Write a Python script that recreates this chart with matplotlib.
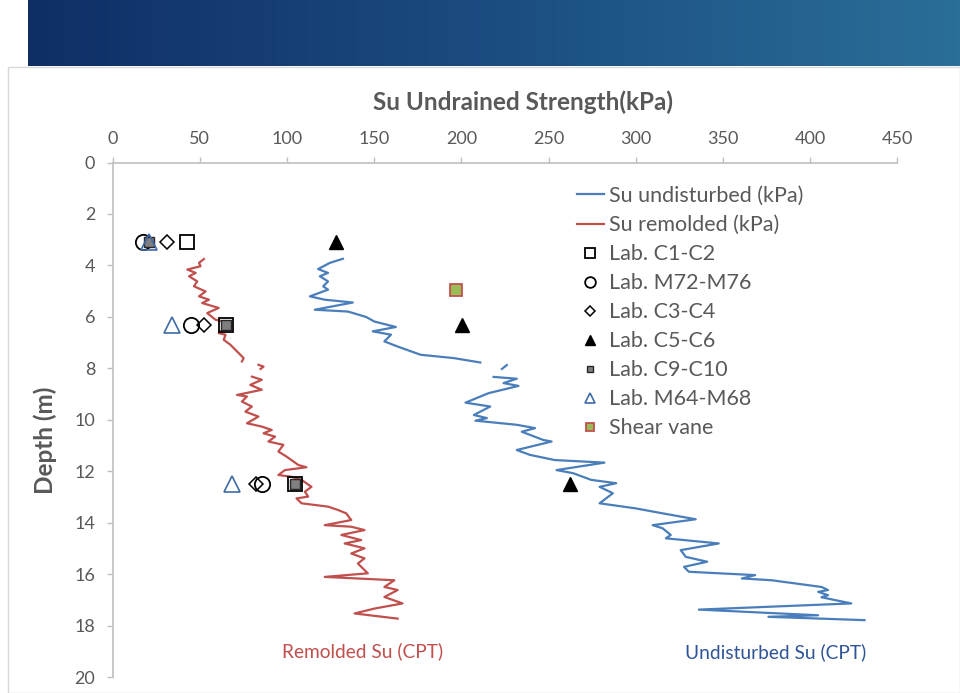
import numpy as np
import matplotlib
matplotlib.use("Agg")
import matplotlib.pyplot as plt
from matplotlib.patches import Rectangle
from matplotlib.colors import LinearSegmentedColormap

plt.rcParams['font.family'] = ['Lato', 'DejaVu Sans']

nan = np.nan

# Undisturbed Su from CPT (kPa) vs depth (m)
und_su = [132.1, 124.6, 117.9, 123.6, 118.9, 123.6, 120.8, 123.6, 113.2, 121.7,
          137.8, 116.0, 135.0, 145.4, 150.2, 162.5, 149.2, 159.7, 155.9, 163.5,
          176.7, 195.8, 210.9, nan,
          226.1, 223.3, nan,
          218.5, 231.8, 224.2, 232.8, 215.7, 202.4, 216.6, 207.2, 214.7, 208.1,
          231.8, 242.3, 234.7, 247.0, 251.8, 231.8, 239.4, 253.6, 282.1, 254.6,
          264.1, 274.5, 288.8, 279.3, 286.9, 279.3, 300.2, 315.4, 334.4, 309.7,
          315.4, 320.1, 317.3, 347.6, 325.8, 328.7, 341.0, 327.7, 330.5, 368.5,
          360.9, 378.0, 406.5, 410.3, 404.6, 410.3, 406.5, 423.6, 336.2, 404.6,
          376.1, 431.2]
und_d = [3.74, 3.90, 4.14, 4.29, 4.42, 4.62, 4.81, 4.94, 5.20, 5.33,
         5.44, 5.72, 5.79, 6.00, 6.18, 6.39, 6.56, 6.69, 6.95, 7.15,
         7.47, 7.60, 7.77, nan,
         7.87, 8.02, nan,
         8.33, 8.40, 8.57, 8.68, 8.96, 9.33, 9.48, 9.81, 9.93, 10.03,
         10.19, 10.32, 10.46, 10.78, 10.84, 11.17, 11.36, 11.56, 11.66, 11.95,
         12.07, 12.33, 12.46, 12.60, 12.85, 13.24, 13.44, 13.63, 13.86, 14.09,
         14.21, 14.47, 14.60, 14.80, 15.06, 15.32, 15.51, 15.71, 15.90, 16.03,
         16.16, 16.23, 16.49, 16.61, 16.68, 16.81, 16.89, 17.13, 17.37, 17.59,
         17.65, 17.78]

# Remolded Su from CPT (kPa) vs depth (m)
rem_su = [52.4, 49.6, 50.5, 42.9, 47.7, 43.9, 48.6, 46.7, 53.4, 49.6,
          55.3, 51.4, 60.9, 54.3, 59.1, 67.6, 60.9, 64.8, 63.8, 67.6,
          70.5, 72.3, 75.2, 74.2, nan,
          83.7, 86.6, 84.9, nan,
          79.9, 85.6, 79.0, 85.6, 71.4, 77.1, 74.2, 79.9, 76.2, 83.7,
          77.1, 85.6, 91.3, 86.6, 93.2, 89.4, 98.0, 95.1, 99.9, 106.5,
          111.2, 98.9, 95.1, 102.7, 108.4, 114.1, 110.3, 112.2, 105.5, 108.4,
          123.6, 129.3, 134.0, 136.9, 121.7, 136.9, 144.5, 131.2, 142.6, 133.1,
          144.5, 136.9, 144.5, 140.7, 146.4, 121.7, 161.6, 155.9, 163.5, 155.9,
          166.3, 150.2, 138.8, 163.5]
rem_d = [3.75, 3.90, 4.03, 4.16, 4.29, 4.42, 4.62, 4.81, 5.01, 5.20,
         5.33, 5.46, 5.65, 5.85, 6.11, 6.24, 6.63, 6.69, 6.89, 7.08,
         7.28, 7.40, 7.60, 7.73, nan,
         7.86, 7.93, 8.02, nan,
         8.32, 8.44, 8.64, 8.83, 9.03, 9.09, 9.29, 9.48, 9.68, 9.87,
         10.13, 10.26, 10.39, 10.52, 10.65, 10.84, 10.97, 11.23, 11.43, 11.75,
         11.84, 11.95, 12.14, 12.21, 12.33, 12.60, 12.79, 12.98, 13.05, 13.24,
         13.37, 13.50, 13.63, 13.89, 14.09, 14.15, 14.28, 14.47, 14.67, 14.80,
         14.99, 15.19, 15.38, 15.58, 15.96, 16.10, 16.23, 16.49, 16.61, 16.88,
         17.13, 17.33, 17.52, 17.72]

# Laboratory tests (kPa) at sample depths (m)
lab_d = [3.1, 6.3, 12.5]
c1c2_su = [42.9, 64.8, 104.6]
m72_su = [17.3, 44.8, 85.6]
c3c4_su = [31.5, 52.4, 82.5]
c5c6_su = [128.2, 200.5, 262.2]
c9c10_su = [21.1, 64.8, 104.6]
m64_su = [21.1, 34.3, 68.5]
vane_su = [196.7]
vane_d = [4.94]

x_ticks = [0, 50, 100, 150, 200, 250, 300, 350, 400, 450]
y_ticks = [0, 2, 4, 6, 8, 10, 12, 14, 16, 18, 20]

BLUE = '#4a7ebb'
RED = '#c0504d'
GRAY_TXT = '#595959'
AX_GRAY = '#bfbfbf'

fig = plt.figure(figsize=(9.6, 6.93), dpi=100)
fig.patch.set_facecolor('white')

# Slide banner with gradient
bax = fig.add_axes([28/960, 1-66/693, 1-28/960, 66/693])
grad = np.linspace(0, 1, 256).reshape(1, -1)
cmap = LinearSegmentedColormap.from_list('ban', ['#0f2e66', '#1b4c82', '#2a6f98'])
bax.imshow(grad, aspect='auto', cmap=cmap, extent=[0, 1, 0, 1])
bax.set_axis_off()

# Chart panel border
fig.patches.append(Rectangle((8/960, 0), 1 - 8/960, 1 - 67/693, transform=fig.transFigure,
                             facecolor='none', edgecolor='#d9d9d9', linewidth=1.0, zorder=-5))

ax = fig.add_axes([112.5/960, 1-677.3/693, (897.3-112.5)/960, (677.3-162.5)/693])
ax.set_facecolor('none')

ax.plot(und_su, und_d, color=BLUE, lw=1.6, label='Su undisturbed (kPa)', zorder=2)
ax.plot(rem_su, rem_d, color=RED, lw=1.6, label='Su remolded (kPa)', zorder=2)
ax.plot(c1c2_su, lab_d, ls='none', marker='s', ms=9.5, mfc='none', mec='black', mew=1.3,
        label='Lab. C1-C2', zorder=3)
ax.plot(m72_su, lab_d, ls='none', marker='o', ms=11, mfc='none', mec='black', mew=1.3,
        label='Lab. M72-M76', zorder=3)
ax.plot(c3c4_su, lab_d, ls='none', marker='D', ms=7.5, mfc='none', mec='black', mew=1.1,
        label='Lab. C3-C4', zorder=3)
ax.plot(c5c6_su, lab_d, ls='none', marker='^', ms=10, mfc='black', mec='black', mew=1.0,
        label='Lab. C5-C6', zorder=3)
ax.plot(c9c10_su, lab_d, ls='none', marker='s', ms=6.5, mfc='#7f7f7f', mec='#262626', mew=1.0,
        label='Lab. C9-C10', zorder=3)
ax.plot(m64_su, lab_d, ls='none', marker='^', ms=11, mfc='none', mec='#3f6aa6', mew=1.2,
        label='Lab. M64-M68', zorder=3)
ax.plot(vane_su, vane_d, ls='none', marker='s', ms=8, mfc='#9bbb59', mec='#c0504d', mew=1.3,
        label='Shear vane', zorder=3)

ax.set_xlim(0, 450)
ax.set_ylim(20, 0)
ax.set_xticks(x_ticks)
ax.set_yticks(y_ticks)
ax.xaxis.tick_top()
ax.xaxis.set_label_position('top')

for s in ['right', 'bottom']:
    ax.spines[s].set_visible(False)
for s in ['left', 'top']:
    ax.spines[s].set_color(AX_GRAY)
    ax.spines[s].set_linewidth(1.2)

ax.tick_params(axis='x', direction='out', length=4.5, width=1.0, color=AX_GRAY,
               labelcolor=GRAY_TXT, labelsize=13, pad=7)
ax.tick_params(axis='y', direction='out', length=4.5, width=1.0, color=AX_GRAY,
               labelcolor=GRAY_TXT, labelsize=13, pad=8)

ax.set_xlabel('Su Undrained Strength(kPa)', fontsize=17.5, fontweight='bold', color=GRAY_TXT)
ax.xaxis.set_label_coords((523-112.5)/785, (677.3-110)/514.8)
ax.set_ylabel('Depth (m)', fontsize=17.5, fontweight='bold', color=GRAY_TXT)
ax.yaxis.set_label_coords((57-112.5)/785, (677.3-440)/514.8)

ax.text(143.6, 18.98, 'Remolded Su (CPT)', color=RED, fontsize=13.8, ha='center', va='center')
ax.text(380.4, 19.02, 'Undisturbed Su (CPT)', color='#2f5597', fontsize=13.8, ha='center', va='center')

leg = ax.legend(loc='upper left', bbox_to_anchor=(577/960, 1-186/693),
                bbox_transform=fig.transFigure, frameon=False, fontsize=15.5,
                labelspacing=0.42, handlelength=1.25, handletextpad=0.25,
                borderpad=0, borderaxespad=0, markerscale=0.7)
for t in leg.get_texts():
    t.set_color(GRAY_TXT)

fig.savefig('out.png', dpi=100, facecolor='white')
